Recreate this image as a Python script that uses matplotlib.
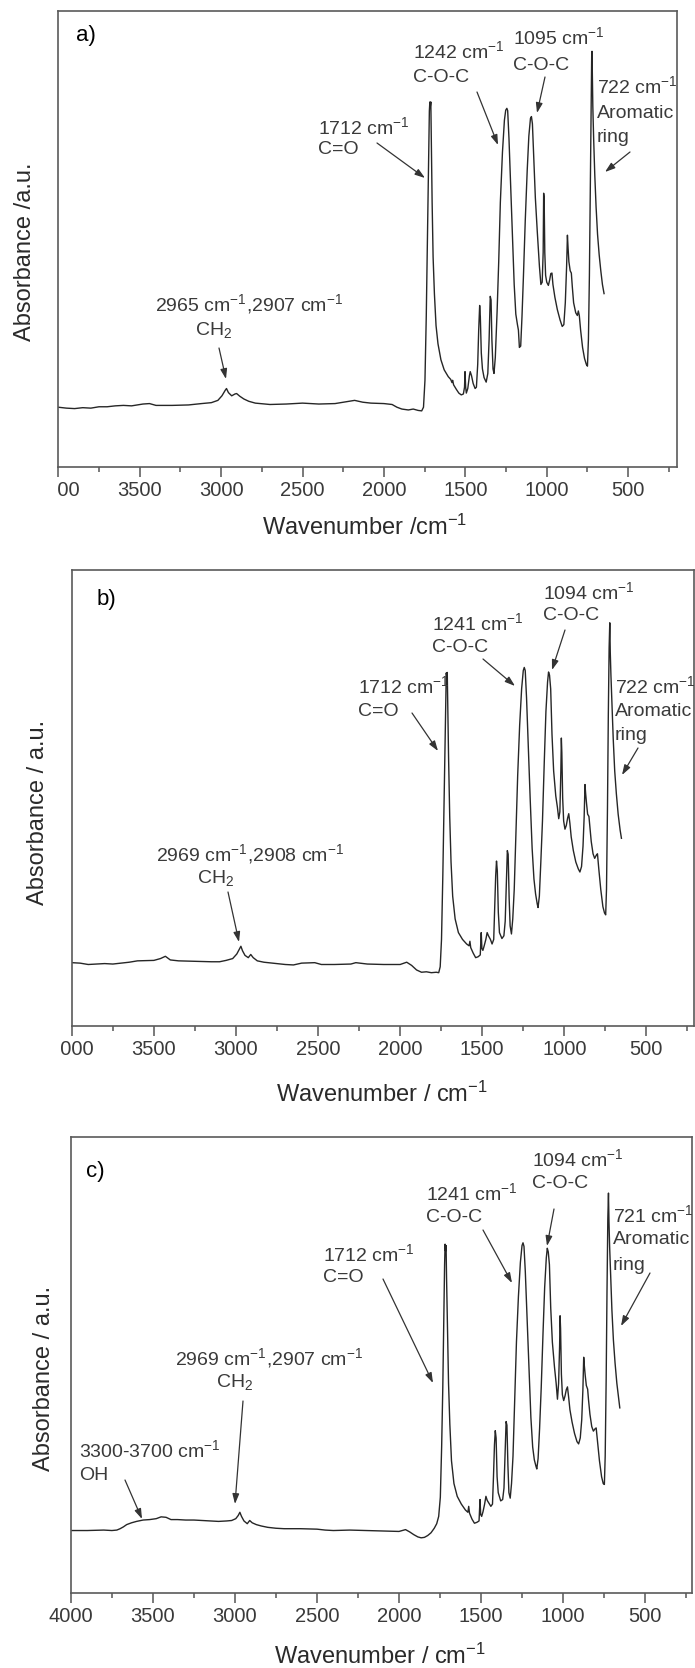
import matplotlib
matplotlib.use("Agg")
import matplotlib.pyplot as plt
from matplotlib.patches import FancyArrowPatch
from matplotlib.transforms import Bbox, TransformedBbox

plt.rcParams["font.family"] = ["Liberation Sans", "DejaVu Sans"]
plt.rcParams["mathtext.fontset"] = "custom"
plt.rcParams["mathtext.rm"] = "Liberation Sans"
plt.rcParams["mathtext.it"] = "Liberation Sans:italic"
plt.rcParams["mathtext.bf"] = "Liberation Sans:bold"

W, H = 695, 1668  # output size in pixels

# ---------------------------------------------------------------------------
# Data: (wavenumber / cm-1, absorbance / a.u.)
# ---------------------------------------------------------------------------

SPECTRUM_A = [
    (4000, 0.131), (3950, 0.129), (3900, 0.128), (3850, 0.130), (3800, 0.129),
    (3750, 0.132), (3700, 0.132), (3650, 0.134), (3600, 0.135), (3550, 0.134),
    (3480, 0.138), (3440, 0.139), (3400, 0.135), (3300, 0.135), (3200, 0.136),
    (3120, 0.139), (3060, 0.141), (3020, 0.146), (2995, 0.156), (2975, 0.168),
    (2967, 0.172), (2955, 0.163), (2935, 0.156), (2915, 0.160), (2905, 0.161),
    (2885, 0.155), (2860, 0.149), (2830, 0.144), (2790, 0.140), (2700, 0.137),
    (2600, 0.138), (2500, 0.140), (2400, 0.138), (2300, 0.139), (2230, 0.143),
    (2180, 0.146), (2130, 0.142), (2080, 0.140), (2000, 0.139), (1950, 0.137),
    (1920, 0.131), (1890, 0.127), (1850, 0.125), (1820, 0.127), (1790, 0.124),
    (1768, 0.123), (1757, 0.131), (1748, 0.190), (1740, 0.330), (1733, 0.500),
    (1727, 0.650), (1721, 0.780), (1718, 0.800), (1715, 0.790), (1712, 0.800),
    (1709, 0.720), (1704, 0.580), (1698, 0.460), (1690, 0.380), (1680, 0.310),
    (1668, 0.270), (1650, 0.235), (1630, 0.213), (1605, 0.198), (1590, 0.192),
    (1582, 0.185), (1578, 0.190), (1572, 0.180), (1555, 0.170), (1540, 0.162),
    (1525, 0.158), (1512, 0.160), (1505, 0.175), (1502, 0.209), (1498, 0.175),
    (1494, 0.162), (1485, 0.172), (1475, 0.200), (1470, 0.209), (1462, 0.200),
    (1452, 0.183), (1440, 0.172), (1432, 0.175), (1424, 0.225), (1418, 0.300),
    (1412, 0.354), (1408, 0.330), (1402, 0.250), (1395, 0.215), (1385, 0.196),
    (1372, 0.186), (1362, 0.205), (1354, 0.280), (1347, 0.374), (1342, 0.366),
    (1337, 0.280), (1330, 0.215), (1324, 0.205), (1316, 0.240), (1305, 0.340),
    (1295, 0.450), (1285, 0.580), (1272, 0.690), (1260, 0.760), (1252, 0.782),
    (1245, 0.786), (1240, 0.781), (1232, 0.720), (1222, 0.620), (1210, 0.500),
    (1200, 0.400), (1190, 0.335), (1180, 0.312), (1174, 0.300), (1168, 0.262),
    (1160, 0.265), (1152, 0.330), (1143, 0.420), (1132, 0.540), (1120, 0.650),
    (1110, 0.725), (1100, 0.764), (1094, 0.768), (1088, 0.752), (1080, 0.680),
    (1070, 0.590), (1058, 0.515), (1045, 0.440), (1036, 0.400), (1028, 0.405),
    (1022, 0.470), (1019, 0.600), (1016, 0.590), (1012, 0.470), (1007, 0.420),
    (1000, 0.405), (990, 0.398), (982, 0.410), (975, 0.424), (968, 0.425),
    (962, 0.400), (950, 0.372), (935, 0.345), (918, 0.322), (905, 0.308),
    (895, 0.312), (886, 0.360), (878, 0.440), (873, 0.508), (869, 0.480),
    (864, 0.450), (856, 0.430), (849, 0.425), (843, 0.395), (835, 0.360),
    (822, 0.338), (812, 0.332), (806, 0.342), (800, 0.332), (792, 0.300),
    (780, 0.262), (768, 0.238), (757, 0.225), (750, 0.221), (744, 0.280),
    (738, 0.420), (733, 0.600), (728, 0.800), (724, 0.900), (722, 0.911),
    (720, 0.860), (717, 0.790), (712, 0.720), (705, 0.640), (697, 0.570),
    (688, 0.510), (678, 0.465), (668, 0.430), (658, 0.400), (648, 0.380),
]

SPECTRUM_B = [
    (4000, 0.139), (3950, 0.138), (3900, 0.135), (3850, 0.136), (3800, 0.137),
    (3750, 0.136), (3700, 0.138), (3650, 0.140), (3600, 0.143), (3500, 0.144),
    (3460, 0.148), (3430, 0.153), (3400, 0.145), (3350, 0.143), (3250, 0.142),
    (3150, 0.141), (3100, 0.141), (3060, 0.144), (3020, 0.148), (2995, 0.158),
    (2980, 0.168), (2970, 0.175), (2960, 0.165), (2945, 0.155), (2925, 0.150),
    (2910, 0.157), (2895, 0.150), (2870, 0.143), (2830, 0.140), (2780, 0.138),
    (2700, 0.135), (2650, 0.134), (2600, 0.138), (2520, 0.139), (2480, 0.135),
    (2400, 0.135), (2300, 0.136), (2270, 0.139), (2200, 0.136), (2100, 0.135),
    (2000, 0.135), (1960, 0.140), (1930, 0.133), (1900, 0.123), (1870, 0.118),
    (1840, 0.119), (1810, 0.117), (1780, 0.118), (1765, 0.117), (1756, 0.130),
    (1748, 0.190), (1740, 0.330), (1733, 0.480), (1727, 0.620), (1722, 0.730),
    (1719, 0.775), (1716, 0.765), (1713, 0.776), (1710, 0.700), (1705, 0.590),
    (1698, 0.460), (1690, 0.360), (1680, 0.285), (1665, 0.235), (1645, 0.205),
    (1620, 0.190), (1595, 0.180), (1580, 0.176), (1575, 0.186), (1570, 0.172),
    (1555, 0.160), (1540, 0.150), (1525, 0.152), (1512, 0.156), (1506, 0.205),
    (1502, 0.170), (1496, 0.166), (1488, 0.176), (1478, 0.190), (1470, 0.205),
    (1462, 0.198), (1450, 0.190), (1440, 0.180), (1430, 0.190), (1424, 0.260),
    (1418, 0.330), (1413, 0.362), (1408, 0.340), (1402, 0.250), (1395, 0.205),
    (1380, 0.192), (1368, 0.198), (1360, 0.230), (1353, 0.310), (1347, 0.385),
    (1342, 0.377), (1336, 0.280), (1330, 0.220), (1322, 0.202), (1314, 0.235),
    (1305, 0.300), (1295, 0.420), (1284, 0.550), (1272, 0.660), (1260, 0.740),
    (1250, 0.780), (1244, 0.787), (1238, 0.780), (1230, 0.720), (1220, 0.620),
    (1208, 0.500), (1196, 0.390), (1185, 0.323), (1175, 0.290), (1165, 0.268),
    (1160, 0.260), (1152, 0.285), (1143, 0.360), (1133, 0.450), (1122, 0.580),
    (1112, 0.690), (1102, 0.755), (1096, 0.777), (1090, 0.770), (1083, 0.740),
    (1075, 0.640), (1065, 0.560), (1052, 0.505), (1042, 0.480), (1034, 0.455),
    (1027, 0.470), (1021, 0.560), (1018, 0.632), (1015, 0.600), (1010, 0.500),
    (1004, 0.450), (996, 0.432), (988, 0.440), (980, 0.456), (973, 0.466),
    (966, 0.445), (958, 0.415), (945, 0.385), (930, 0.360), (915, 0.345),
    (905, 0.338), (895, 0.350), (886, 0.395), (879, 0.460), (874, 0.530),
    (870, 0.510), (865, 0.490), (858, 0.465), (850, 0.460), (845, 0.440),
    (836, 0.405), (825, 0.378), (815, 0.368), (805, 0.375), (798, 0.378),
    (790, 0.345), (778, 0.300), (765, 0.262), (755, 0.248), (748, 0.244),
    (743, 0.300), (737, 0.480), (732, 0.680), (727, 0.830), (723, 0.885),
    (720, 0.820), (716, 0.770), (710, 0.710), (702, 0.630), (693, 0.560),
    (683, 0.510), (672, 0.465), (660, 0.430), (652, 0.412),
]

SPECTRUM_C = [
    (4000, 0.137), (3900, 0.137), (3800, 0.138), (3750, 0.137), (3720, 0.138),
    (3700, 0.141), (3680, 0.145), (3660, 0.150), (3630, 0.154), (3600, 0.157),
    (3560, 0.160), (3520, 0.161), (3480, 0.163), (3450, 0.167), (3420, 0.166),
    (3390, 0.161), (3350, 0.161), (3300, 0.160), (3250, 0.160), (3200, 0.159),
    (3150, 0.158), (3100, 0.157), (3050, 0.158), (3020, 0.159), (2995, 0.163),
    (2980, 0.170), (2970, 0.177), (2960, 0.168), (2945, 0.158), (2925, 0.152),
    (2910, 0.159), (2895, 0.154), (2870, 0.150), (2840, 0.147), (2800, 0.144),
    (2750, 0.142), (2700, 0.141), (2600, 0.141), (2500, 0.140), (2450, 0.138),
    (2400, 0.137), (2300, 0.138), (2200, 0.137), (2100, 0.136), (2000, 0.135),
    (1960, 0.139), (1935, 0.134), (1910, 0.128), (1885, 0.123), (1865, 0.121),
    (1845, 0.122), (1825, 0.126), (1805, 0.132), (1785, 0.142), (1770, 0.152),
    (1758, 0.168), (1748, 0.210), (1740, 0.320), (1733, 0.450), (1727, 0.600),
    (1722, 0.720), (1719, 0.765), (1716, 0.750), (1713, 0.762), (1710, 0.690),
    (1705, 0.590), (1698, 0.460), (1690, 0.370), (1680, 0.290), (1665, 0.240),
    (1645, 0.212), (1620, 0.195), (1595, 0.182), (1580, 0.177), (1575, 0.190),
    (1570, 0.175), (1555, 0.162), (1540, 0.153), (1525, 0.155), (1512, 0.158),
    (1506, 0.205), (1502, 0.172), (1496, 0.168), (1488, 0.178), (1478, 0.195),
    (1470, 0.212), (1462, 0.203), (1450, 0.196), (1440, 0.190), (1430, 0.195),
    (1424, 0.255), (1418, 0.325), (1413, 0.356), (1408, 0.340), (1402, 0.255),
    (1395, 0.220), (1380, 0.202), (1368, 0.205), (1360, 0.230), (1353, 0.305),
    (1347, 0.376), (1342, 0.368), (1336, 0.280), (1330, 0.220), (1322, 0.208),
    (1314, 0.240), (1305, 0.300), (1295, 0.420), (1284, 0.550), (1272, 0.650),
    (1260, 0.725), (1250, 0.762), (1244, 0.768), (1238, 0.760), (1230, 0.705),
    (1220, 0.610), (1208, 0.490), (1196, 0.385), (1185, 0.320), (1175, 0.292),
    (1165, 0.278), (1160, 0.272), (1152, 0.295), (1143, 0.360), (1133, 0.450),
    (1122, 0.570), (1112, 0.670), (1102, 0.735), (1096, 0.756), (1090, 0.748),
    (1083, 0.720), (1075, 0.625), (1065, 0.550), (1052, 0.495), (1042, 0.460),
    (1034, 0.425), (1027, 0.460), (1021, 0.540), (1018, 0.608), (1015, 0.580),
    (1010, 0.480), (1004, 0.435), (996, 0.422), (988, 0.432), (980, 0.446),
    (973, 0.452), (966, 0.430), (958, 0.402), (945, 0.375), (930, 0.350),
    (915, 0.332), (905, 0.327), (895, 0.340), (886, 0.380), (879, 0.445),
    (874, 0.517), (870, 0.498), (865, 0.478), (858, 0.455), (850, 0.447),
    (845, 0.425), (836, 0.392), (825, 0.365), (815, 0.355), (805, 0.360),
    (798, 0.362), (790, 0.333), (778, 0.290), (765, 0.255), (755, 0.240),
    (748, 0.238), (743, 0.300), (737, 0.470), (732, 0.660), (727, 0.820),
    (723, 0.877), (720, 0.815), (716, 0.760), (710, 0.700), (702, 0.620),
    (693, 0.555), (683, 0.505), (672, 0.460), (662, 0.430), (654, 0.406),
]

MAJOR_TICKS = [4000, 3500, 3000, 2500, 2000, 1500, 1000, 500]
MINOR_TICKS = [3750, 3250, 2750, 2250, 1750, 1250, 750, 250]
TICK_LABELS = ["4000", "3500", "3000", "2500", "2000", "1500", "1000", "500"]

CM = r"cm$^{-1}$"

LABELS_A = [f"1712 {CM}", "C=O", f"1242 {CM}", "C-O-C", f"1095 {CM}", "C-O-C",
            f"722 {CM}", "Aromatic", "ring", f"2965 {CM},2907 {CM}", "CH$_2$"]
LABELS_B = [f"1712 {CM}", "C=O", f"1241 {CM}", "C-O-C", f"1094 {CM}", "C-O-C",
            f"722 {CM}", "Aromatic", "ring", f"2969 {CM},2908 {CM}", "CH$_2$"]
LABELS_C = [f"1712 {CM}", "C=O", f"1241 {CM}", "C-O-C", f"1094 {CM}", "C-O-C",
            f"721 {CM}", "Aromatic", "ring", f"2969 {CM},2907 {CM}", "CH$_2$",
            f"3300-3700 {CM}", "OH"]


# ---------------------------------------------------------------------------
# Layout (pixel positions in the 695x1668 image, y measured from the top)
# ---------------------------------------------------------------------------

def px(x, y):
    return x / W, 1 - y / H


def draw_panel(fig, box, spectrum, xlim, clip_x, letter, letter_xy,
               xlabel, xlabel_xy, ylabel, ylabel_xy, labels, label_xy, arrows):
    left, top, right, bottom = box
    ax = fig.add_axes([left / W, 1 - bottom / H, (right - left) / W, (bottom - top) / H])
    wn = [p[0] for p in spectrum]
    ab = [p[1] for p in spectrum]
    ax.plot(wn, ab, color="#262626", lw=1.0)
    ax.set_xlim(*xlim)
    ax.set_ylim(0, 1)
    ax.set_yticks([])
    ax.set_xticks(MAJOR_TICKS, TICK_LABELS)
    ax.set_xticks(MINOR_TICKS, minor=True)
    ax.tick_params(axis="x", which="major", direction="out", length=7, width=1.1,
                   color="#555555", pad=3, labelsize=14.5, labelcolor="#3a3a3a")
    ax.tick_params(axis="x", which="minor", direction="out", length=3.6, width=1.1,
                   color="#555555")
    for sp in ax.spines.values():
        sp.set_color("#5a5a5a")
        sp.set_linewidth(1.2)

    # the left-most tick label is cut by the image edge in the reference
    clip = TransformedBbox(Bbox.from_extents(clip_x / W, 0, 1, 1), fig.transFigure)
    for t in ax.xaxis.get_major_ticks():
        t.label1.set_clip_box(clip)
        t.label1.set_clip_on(True)

    ax.set_xlabel(xlabel, fontsize=17, color="#2a2a2a")
    ax.xaxis.label.set_va("center")
    ax.xaxis.set_label_coords(*px(*xlabel_xy), transform=fig.transFigure)
    ax.set_ylabel(ylabel, fontsize=17, color="#2a2a2a")
    ax.yaxis.label.set_va("center")
    ax.yaxis.set_label_coords(*px(*ylabel_xy), transform=fig.transFigure)

    fig.text(*px(*letter_xy), letter, fontsize=16, color="black",
             ha="center", va="center")
    for text, (x, y) in zip(labels, label_xy):
        fig.text(*px(x, y), text, fontsize=14, color="#3a3a3a", ha="left", va="center")
    for (x0, y0), (x1, y1) in arrows:
        fig.add_artist(FancyArrowPatch(
            px(x0, y0), px(x1, y1), transform=fig.transFigure,
            arrowstyle="-|>,head_length=0.6,head_width=0.2", mutation_scale=10,
            lw=0.9, color="#333333", shrinkA=0, shrinkB=0))
    return ax


fig = plt.figure(figsize=(W / 100, H / 100), dpi=100)

draw_panel(
    fig, (58.3, 10.7, 677, 467), SPECTRUM_A, (4000, 200), 58.3,
    "a)", (86, 36),
    "Wavenumber /" + CM, (365, 527), "Absorbance /a.u.", (25, 252),
    LABELS_A,
    [(318, 127), (318, 150), (413, 51), (413, 77), (513, 37), (513, 65),
     (597, 86), (597, 113), (597, 137), (155, 304), (195, 330)],
    [((377, 143), (425, 178)), ((477, 92), (498, 145)), ((545, 77), (537, 113)),
     ((630, 152), (605, 172)), ((219, 348), (226, 379))],
)

draw_panel(
    fig, (71.8, 570.4, 694, 1026), SPECTRUM_B, (4000, 210), 61,
    "b)", (106, 599),
    "Wavenumber / " + CM, (382, 1094), "Absorbance / a.u.", (38, 812),
    LABELS_B,
    [(358, 686), (358, 712), (432, 623), (432, 647), (543, 592), (543, 616),
     (615, 686), (615, 712), (615, 736), (156, 854), (197, 878)],
    [((412, 713), (438, 751)), ((483, 659), (515, 686)), ((565, 630), (552, 670)),
     ((638, 748), (622, 775)), ((228, 892), (239, 942))],
)

draw_panel(
    fig, (70.9, 1137, 692.3, 1593), SPECTRUM_C, (4000, 212), 0,
    "c)", (95, 1172),
    "Wavenumber / " + CM, (380, 1656), "Absorbance / a.u.", (44, 1378),
    LABELS_C,
    [(323, 1254), (323, 1278), (426, 1193), (426, 1217), (532, 1159), (532, 1183),
     (613, 1215), (613, 1240), (613, 1265), (175, 1358), (216, 1382),
     (79, 1450), (79, 1475)],
    [((383, 1279), (433, 1383)), ((483, 1230), (512, 1283)), ((554, 1209), (547, 1246)),
     ((650, 1273), (621, 1326)), ((243, 1401), (235, 1504)), ((125, 1480), (142, 1519))],
)

fig.savefig("out.png", dpi=100, facecolor="white")
